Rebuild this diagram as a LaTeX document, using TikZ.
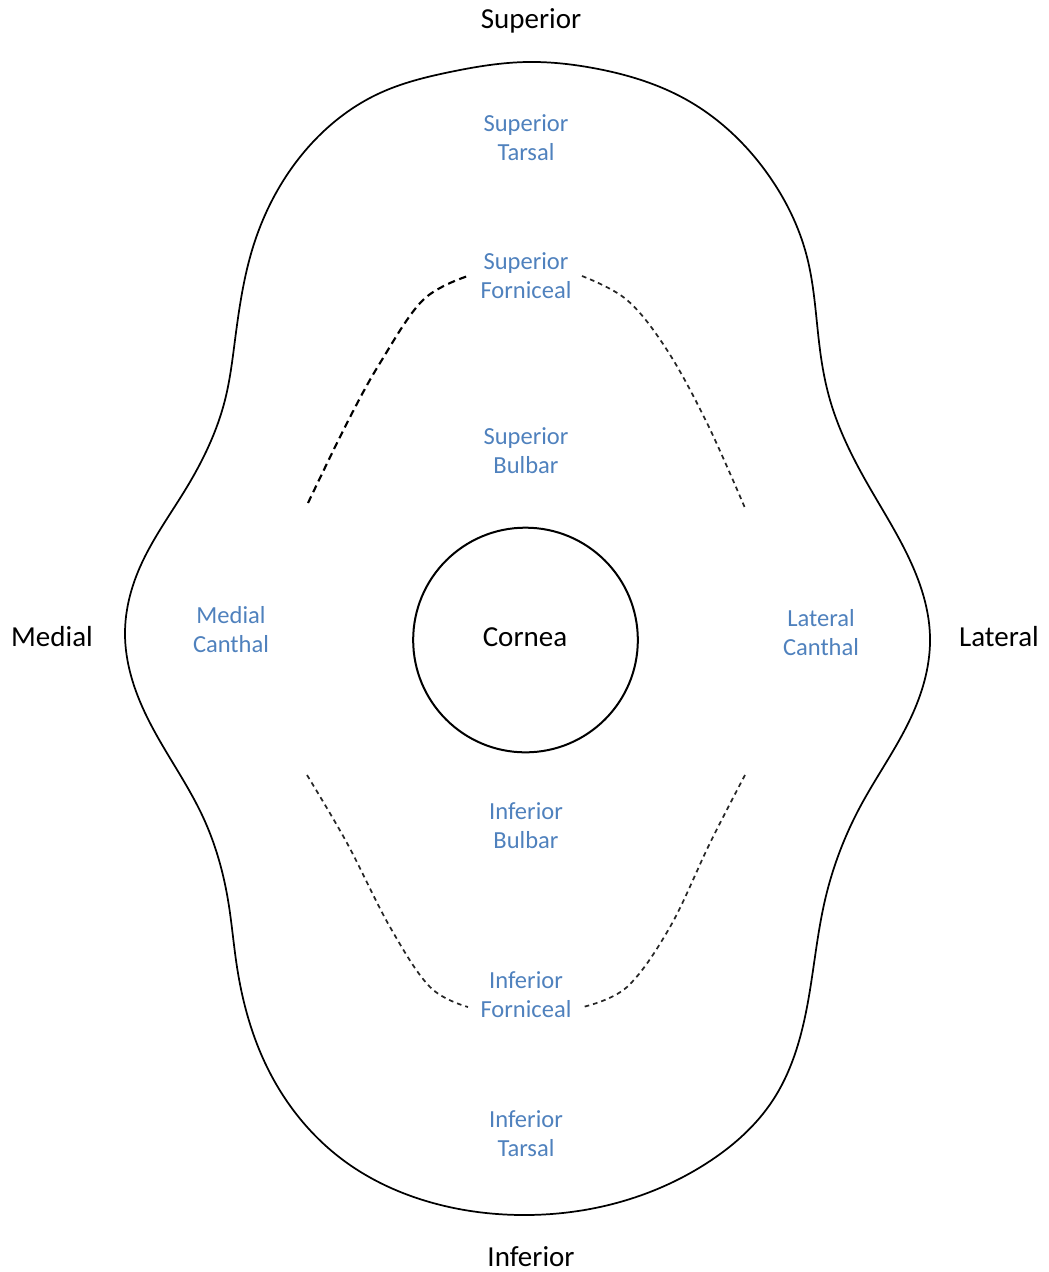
\documentclass[tikz,border=0pt]{standalone}
\usepackage{fontspec}
\usetikzlibrary{hobby}
\setmainfont{Carlito}
\definecolor{labelblue}{HTML}{4F81BD}
\begin{document}
\begin{tikzpicture}[x=0.75pt,y=-0.75pt,
  dirlabel/.style={font=\fontsize{21.75}{26}\selectfont, text=black, inner sep=0pt},
  region/.style={font=\fontsize{18.4}{21.75}\selectfont, text=labelblue, align=center, inner sep=0pt},
  outline/.style={line width=1.3pt, black},
  fornix/.style={line width=1.3pt, black!85, dash pattern=on 3.5pt off 3pt}]
\useasboundingbox (0,0) rectangle (1049,1272);
% outer outline
\draw[outline, use Hobby shortcut, closed=true]
  (527,62) .. (593,68) .. (687,100) .. (767,173) .. (807,257) .. (820,350)
  .. (830,400) .. (867,483) .. (913,567) .. (930,637) .. (913,713) .. (860,807)
  .. (825,900) .. (807,1007) .. (773,1100) .. (707,1163) .. (600,1207) .. (527,1215)
  .. (433,1203) .. (343,1160) .. (267,1067) .. (237,967) .. (228,900) .. (203,817)
  .. (147,717) .. (125,633) .. (140,567) .. (187,487) .. (225,400) .. (235,340)
  .. (253,247) .. (300,157) .. (380,93) .. (450,72);
% fornices
\draw[fornix, line width=1.6pt, black, dash pattern=on 5.5pt off 3.5pt] plot[smooth, tension=0.6] coordinates {(308,503) (347,423) (380,363) (423,300) (468,276)};
\draw[fornix] plot[smooth, tension=0.6] coordinates {(582,276) (627,300) (667,350) (707,423) (745,508)};
\draw[fornix] plot[smooth, tension=0.6] coordinates {(307,775) (347,843) (390,927) (430,987) (468,1007)};
\draw[fornix] plot[smooth, tension=0.6] coordinates {(745,775) (710,843) (670,927) (627,987) (583,1007)};
% cornea
\node[draw, circle, line width=1.5pt, minimum size=168.5pt, inner sep=0pt] (cornea) at (525.5,640) {};
\node[dirlabel] (cornealabel) at (525,637) {Cornea};
% direction labels
\node[dirlabel] (sup) at (531,21) {Superior};
\node[dirlabel] (inf) at (531,1257) {Inferior};
\node[dirlabel] (med) at (52,637) {Medial};
\node[dirlabel] (lat) at (999,637) {Lateral};
% region labels
\node[region] (suptarsal) at (526,138) {Superior\\Tarsal};
\node[region] (supforn) at (526,276) {Superior\\Forniceal};
\node[region] (supbulb) at (526,451) {Superior\\Bulbar};
\node[region] (medcanth) at (231,630) {Medial\\Canthal};
\node[region] (latcanth) at (821,633) {Lateral\\Canthal};
\node[region] (infbulb) at (526,826) {Inferior\\Bulbar};
\node[region] (infforn) at (526,995) {Inferior\\Forniceal};
\node[region] (inftarsal) at (526,1134) {Inferior\\Tarsal};
\end{tikzpicture}
\end{document}
